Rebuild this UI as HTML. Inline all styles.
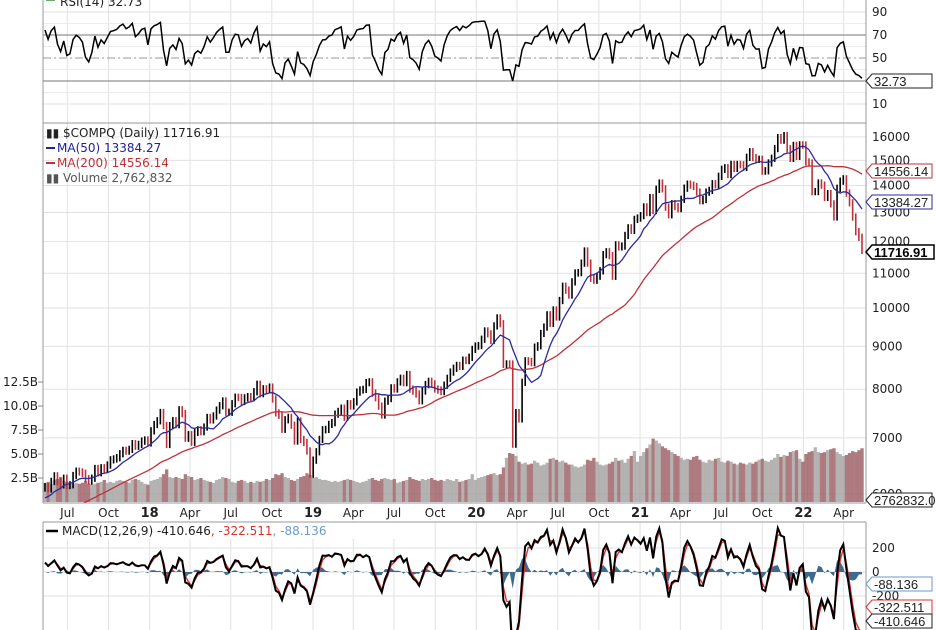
<!DOCTYPE html>
<html><head><meta charset="utf-8"><style>
html,body{margin:0;padding:0;background:#fff;width:936px;height:630px;overflow:hidden;}
svg{display:block;font-family:"DejaVu Sans","Liberation Sans",sans-serif;}
</style></head><body>
<svg id="chart" width="936" height="630" viewBox="0 0 936 630">
<defs>
<clipPath id="cpPrice"><rect x="43" y="123" width="823" height="380"/></clipPath>
<clipPath id="cpRsi"><rect x="43" y="0" width="823" height="123"/></clipPath>
<clipPath id="cpMacd"><rect x="43" y="522" width="823" height="108"/></clipPath>
</defs>
<rect x="0" y="0" width="936" height="630" fill="#fff"/>
<g id="grid"></g>
<g id="vol" clip-path="url(#cpPrice)"></g>
<g id="price" clip-path="url(#cpPrice)"></g>
<g id="rsi" clip-path="url(#cpRsi)"></g>
<g id="macd" clip-path="url(#cpMacd)"></g>
<g id="frames">
<line x1="43" y1="0" x2="43" y2="503" stroke="#999"/>
<line x1="866" y1="0" x2="866" y2="503" stroke="#999"/>
<line x1="43" y1="123" x2="866" y2="123" stroke="#999"/>
<line x1="43" y1="503" x2="866" y2="503" stroke="#999"/>
<line x1="43" y1="522" x2="866" y2="522" stroke="#999"/>
<line x1="43" y1="522" x2="43" y2="630" stroke="#999"/>
<line x1="866" y1="522" x2="866" y2="630" stroke="#999"/>
</g>
<g id="axes" font-size="12" fill="#222"></g>
<g id="legend" font-size="12">
<rect x="46" y="-7" width="9" height="8" fill="#6a6"/>
<text x="60" y="6" fill="#222">RSI(14) 32.73</text>
<text x="46" y="137" fill="#222">▮▮ $COMPQ (Daily) 11716.91</text>
<line x1="46" y1="148" x2="55" y2="148" stroke="#22229a" stroke-width="2"/>
<text x="57" y="152" fill="#22229a">MA(50) 13384.27</text>
<line x1="46" y1="163" x2="55" y2="163" stroke="#c0303a" stroke-width="2"/>
<text x="57" y="167" fill="#c0303a">MA(200) 14556.14</text>
<text x="46" y="182" fill="#555">▮▮ Volume 2,762,832</text>
<rect x="44" y="523" width="380" height="16" fill="#fff"/>
<line x1="46" y1="531" x2="58" y2="531" stroke="#000" stroke-width="2.5"/>
<text x="62" y="535"><tspan fill="#222">MACD(12,26,9) -410.646</tspan><tspan fill="#e0302a">, -322.511</tspan><tspan fill="#6a9ad0">, -88.136</tspan></text>
</g>
<g id="tags" font-size="13" font-family="Liberation Sans, sans-serif"></g>
</svg>
<script>
// weekly closes (warmup Aug 2016 - May 5 2017, then May 12 2017 - May 2022)
const warmupCloses=[5221,5232,5238,5218,5249,5125,5244,5305,5312,5292,5214,5257,5190,5046,5237,5321,5398,5255,5444,5437,5462,5383,5521,5574,5555,5660,5666,5734,5838,5845,5870,5861,5901,5828,5911,5877,5805,5910,6048,6100];
const closes=[6121,6083,6210,6306,6208,6152,6265,6140,6153,6312,6387,6374,6351,6256,6216,6265,6435,6360,6448,6426,6496,6590,6606,6629,6701,6764,6750,6782,6889,6840,6875,6937,6959,6903,
7136,7261,7336,7505,7241,6874,7239,7337,7258,7560,7482,6993,7063,6915,7106,7156,7120,7210,7403,7354,7434,7554,7646,7746,7510,7510,7688,7826,7821,7737,7812,7839,7816,7945,8110,7903,8010,7986,8047,7788,7497,7449,7167,7357,7406,7248,6939,7330,6969,6911,6753,6333,6584,
6738,6971,7157,7164,7263,7298,7472,7527,7595,7408,7688,7643,7729,7938,7984,7998,8146,8164,7917,7816,7637,7453,7742,7797,8031,8006,8162,8244,8146,8330,8004,7959,7895,7751,7962,8103,8176,8118,8007,7982,7950,8090,8243,8386,8475,8541,8520,8665,8656,8734,8925,9007,
9021,9178,9389,9315,9150,9520,9731,9577,8567,8576,8575,6880,7502,7374,8154,8650,8634,8605,8980,9015,9325,9490,9815,9588,9946,9757,10208,10617,10503,10363,10745,11010,11020,11312,11696,11313,10854,10793,10914,11076,11580,11672,11548,10912,11895,11830,11855,12206,12464,12378,12756,12804,
12888,13202,12999,13543,13071,13856,14095,13874,13192,12920,13319,13215,13139,13480,13900,14052,14016,13962,13752,13429,13471,13749,13814,14069,14030,14360,14639,14701,14428,14837,14673,14835,14822,14715,15129,15363,15115,15043,15047,14566,14579,14897,15090,15498,15971,15860,16057,15491,15085,15630,15170,15653,15644,
14936,14893,13768,13770,14098,14015,13548,13694,13313,12843,13894,14169,14261,13711,13351,12839,12335,12145,11717];
// weekly average daily volume, billions
const volumes=[2.0,2.1,1.9,2.3,2.4,2.6,2.2,2.1,2.0,1.9,2.0,1.9,2.0,2.2,1.9,1.8,1.9,2.0,2.1,2.3,2.0,2.1,2.0,2.2,2.3,2.2,2.1,2.0,2.3,2.4,2.3,2.1,1.9,1.8,
2.2,2.3,2.4,2.6,2.9,3.4,2.6,2.5,2.6,2.5,2.4,2.9,2.7,2.6,2.3,2.4,2.5,2.3,2.2,2.1,2.0,2.3,2.4,2.6,2.5,2.4,2.1,2.0,2.2,2.3,2.2,2.0,2.1,2.0,2.2,2.1,2.2,2.4,2.3,2.5,2.9,2.8,3.0,2.6,2.5,2.3,2.2,2.4,2.6,2.7,3.0,2.8,2.5,
2.6,2.4,2.3,2.3,2.2,2.1,2.2,2.1,2.2,2.3,2.4,2.3,2.2,2.1,2.0,2.1,2.2,2.4,2.5,2.3,2.2,2.4,2.5,2.4,2.3,2.4,2.0,2.1,2.2,2.3,2.6,2.4,2.3,2.2,2.4,2.3,2.4,2.5,2.3,2.2,2.3,2.2,2.4,2.3,2.2,2.4,2.1,2.2,2.3,2.4,2.9,2.3,
2.5,2.6,2.7,2.8,2.9,3.0,2.8,2.9,3.6,4.6,5.1,5.0,4.8,4.2,4.0,4.1,3.9,4.0,4.3,4.1,3.8,3.9,4.1,4.5,4.6,4.4,4.2,4.3,4.1,3.9,3.9,3.7,3.6,3.7,3.9,4.4,4.3,4.6,4.2,3.9,3.8,3.9,4.0,4.2,4.6,4.3,4.4,4.1,4.5,4.8,5.3,4.2,
4.8,5.2,5.6,6.0,6.6,6.4,6.1,5.8,5.6,5.4,5.2,5.0,4.8,4.6,4.4,4.5,4.4,4.7,4.8,4.4,4.2,4.1,4.4,4.3,4.5,4.6,4.2,4.1,4.3,4.2,4.0,3.9,4.1,4.0,3.9,4.1,4.0,4.2,4.4,4.5,4.3,4.2,4.4,4.6,5.0,4.7,4.9,4.8,5.2,5.3,5.4,4.5,4.2,
5.0,5.2,5.3,5.7,5.2,5.1,5.2,5.4,5.5,5.6,5.2,5.0,4.8,4.9,5.1,5.3,5.2,5.4,5.6];
// axis ticks
const timeTickLabels=["Jul","Oct","18","Apr","Jul","Oct","19","Apr","Jul","Oct","20","Apr","Jul","Oct","21","Apr","Jul","Oct","22","Apr"];
const timeTickDates=["2017-07-01","2017-10-01","2018-01-01","2018-04-01","2018-07-01","2018-10-01","2019-01-01","2019-04-01","2019-07-01","2019-10-01","2020-01-01","2020-04-01","2020-07-01","2020-10-01","2021-01-01","2021-04-01","2021-07-01","2021-10-01","2022-01-01","2022-04-01"];
const priceTicks=[6000,7000,8000,9000,10000,11000,12000,13000,14000,15000,16000];
const volumeTicks=[2.5,5.0,7.5,10.0,12.5];
const volumeTickLabels=["2.5B","5.0B","7.5B","10.0B","12.5B"];
const rsiTicks=[10,30,50,70,90];
const macdTicks=[-200,0,200];

const NS="http://www.w3.org/2000/svg";
function mk(tag,attrs,parent){const e=document.createElementNS(NS,tag);for(const k in attrs)e.setAttribute(k,attrs[k]);parent.appendChild(e);return e;}
const N=closes.length;
const xi=i=>45+i*(817/(N-1));
const t0=Date.parse("2017-05-12"),t1=Date.parse("2022-05-12");
const xd=d=>45+(Date.parse(d)-t0)/(t1-t0)*817;
const yP=p=>308-364*Math.log(p/10000);
const yV=v=>502-v*9.6;
const yR=v=>58-(v-50)*1.15;
const yM=v=>572-v*0.12;

const all=warmupCloses.concat(closes);const W=warmupCloses.length;
const grid=document.getElementById('grid'),axes=document.getElementById('axes');
timeTickDates.forEach((d,k)=>{const x=xd(d);
 let l=mk('line',{x1:x,y1:0,x2:x,y2:503,stroke:'#e2e2e2'},grid);
 
 l=mk('line',{x1:x,y1:522,x2:x,y2:630,stroke:'#e2e2e2'},grid);
 
 const isYear=/^\d+$/.test(timeTickLabels[k]);
 const t=mk('text',{x:x,y:517,'text-anchor':'middle','font-weight':isYear?'bold':'normal','font-size':isYear?13:12},axes);
 t.textContent=timeTickLabels[k];
 
});
priceTicks.forEach(p=>{const y=yP(p);
 const l=mk('line',{x1:43,y1:y,x2:866,y2:y,stroke:'#e2e2e2'},grid);
 
 const t=mk('text',{x:872,y:y+4},axes);t.textContent=p;
 
});
volumeTicks.forEach((v,k)=>{const y=yV(v);
 const l=mk('line',{x1:38,y1:y,x2:43,y2:y,stroke:'#888'},axes);
 
 const t=mk('text',{x:38,y:y+4,'text-anchor':'end'},axes);t.textContent=volumeTickLabels[k];
 
});
[20,40,60,80].forEach(v=>{const l=mk('line',{x1:43,y1:yR(v),x2:866,y2:yR(v),stroke:'#ececec'},grid);
 });
rsiTicks.forEach(v=>{const y=yR(v);
 const st=(v==30||v==70)?{stroke:'#777'}:(v==50?{stroke:'#999','stroke-dasharray':'8,3,2,3'}:{stroke:'#e2e2e2'});
 const l=mk('line',Object.assign({x1:43,y1:y,x2:866,y2:y},st),grid);
 
 if(v!=30){const t=mk('text',{x:872,y:y+4},axes);t.textContent=v;
 }
});
macdTicks.forEach(v=>{const y=yM(v);
 const l=mk('line',{x1:43,y1:y,x2:866,y2:y,stroke:'#e2e2e2'},grid);
 
 const t=mk('text',{x:872,y:y+4},axes);t.textContent=v;
 
});
const vg=document.getElementById('vol');
volumes.forEach((v,i)=>{const up=i==0||closes[i]>=closes[i-1];
 const r=mk('rect',{x:xi(i)-1.6,y:yV(v),width:3.3,height:502-yV(v),fill:up?'#a8a4a4':'#a0646a',opacity:0.85},vg);
 
});
const pg=document.getElementById('price');
closes.forEach((c,i)=>{const prev=all[W+i-1];const lo=Math.min(prev,c),hi=Math.max(prev,c);
 const l=mk('line',{x1:xi(i),x2:xi(i),y1:yP(hi*1.01),y2:yP(lo*0.99),stroke:c<prev?'#c0303a':'#000','stroke-width':1.6},pg);
 
});
function sma(n){const out=[];for(let i=0;i<N;i++){let s=0,k=0;for(let j=W+i;j>W+i-n&&j>=0;j--){s+=all[j];k++;}out.push(s/k);}return out;}
function path(vals,xf,yf){return vals.map((v,i)=>(i?'L':'M')+xf(i).toFixed(1)+','+yf(v).toFixed(1)).join('');}
const ma50=sma(10),ma200=sma(40);
let p=mk('path',{d:path(ma200,xi,yP),fill:'none',stroke:'#c0303a','stroke-width':1.3},pg);

p=mk('path',{d:path(ma50,xi,yP),fill:'none',stroke:'#2a2aa0','stroke-width':1.3},pg);

const rsiP=4;let ag=0,al=0;const rsi=[];
for(let j=1;j<all.length;j++){const d=all[j]-all[j-1];const g=Math.max(d,0),l=Math.max(-d,0);
 if(j<=rsiP){ag+=g/rsiP;al+=l/rsiP;}else{ag=(ag*(rsiP-1)+g)/rsiP;al=(al*(rsiP-1)+l)/rsiP;}
 if(j>=W)rsi.push(al==0?100:100-100/(1+ag/al));}
const rg=document.getElementById('rsi');
p=mk('path',{d:path(rsi.map(v=>Math.max(22,Math.min(82,26+v*0.58))),xi,yR),fill:'none',stroke:'#000','stroke-width':1.5},rg);

const af=2/(2.4+1),as=2/(5.2+1),asg=2/(1.8+1);let ef=all[0],es=all[0],sg=0;const mv=[],sv=[];
for(let j=0;j<all.length;j++){ef+=af*(all[j]-ef);es+=as*(all[j]-es);const m=ef-es;sg+=asg*(m-sg);if(j>=W){mv.push(m*1.2);sv.push(sg*1.2);}}
const mg=document.getElementById('macd');
let hd='M'+xi(0)+','+yM(0);mv.forEach((m,i)=>{hd+='L'+xi(i).toFixed(1)+','+yM(m-sv[i]).toFixed(1);});hd+='L'+xi(N-1)+','+yM(0)+'Z';
p=mk('path',{d:hd,fill:'#3f6a90',stroke:'none'},mg);

p=mk('path',{d:path(sv,xi,yM),fill:'none',stroke:'#e0302a','stroke-width':1.4},mg);

p=mk('path',{d:path(mv,xi,yM),fill:'none',stroke:'#000','stroke-width':2},mg);

const tg=document.getElementById('tags');
[[81,'32.73','#222',false,'rsi-value-tag'],[171,'14556.14','#c0303a',false,'ma200-value-tag'],[202,'13384.27','#2a2aa0',false,'ma50-value-tag'],[252,'11716.91','#000',true,'price-value-tag'],[500,'2762832.0','#222',false,'volume-value-tag'],[584,'-88.136','#6a9ad0',false,'histogram-value-tag'],[607,'-322.511','#e0302a',false,'signal-value-tag'],[621,'-410.646','#222',false,'macd-value-tag']].forEach(a=>{
 const y=a[0],w=a[3]?62:60;
 const g=mk('g',{},tg);
 mk('path',{d:`M866,${y}L872,${y-7}L${872+w},${y-7}L${872+w},${y+7}L872,${y+7}Z`,fill:'#fff',stroke:a[2],'stroke-width':a[3]?1.5:1},g);
 const t=mk('text',{x:874,y:y+5,fill:a[3]?'#000':'#222','font-weight':a[3]?'bold':'normal'},g);t.textContent=a[1];
});
</script>
</body></html>
